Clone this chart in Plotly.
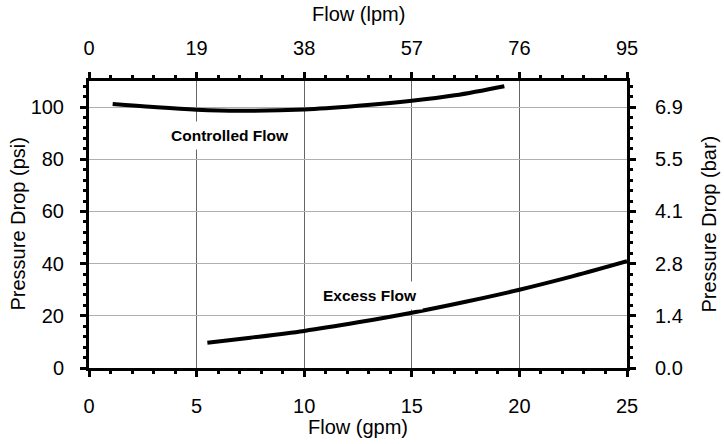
import plotly.graph_objects as go

# Data
controlled_x = [1.1, 3.0, 5.0, 7.0, 10.0, 12.5, 15.0, 17.0, 19.3]
controlled_y = [101.2, 100.0, 99.0, 98.6, 99.1, 100.5, 102.4, 104.5, 108.0]
excess_x = [5.5, 7.5, 10.0, 12.5, 15.0, 17.5, 20.0, 22.5, 25.0]
excess_y = [9.7, 11.6, 14.2, 17.5, 21.2, 25.4, 30.0, 35.2, 40.9]

gpm_ticks = [0, 5, 10, 15, 20, 25]
lpm_labels = ["0", "19", "38", "57", "76", "95"]
psi_ticks = [0, 20, 40, 60, 80, 100]
bar_labels = ["0.0", "1.4", "2.8", "4.1", "5.5", "6.9"]

FONT = "Liberation Sans, Arial, sans-serif"

fig = go.Figure()
fig.add_trace(go.Scatter(x=controlled_x, y=controlled_y, mode="lines",
                         line=dict(color="black", width=4, shape="spline"),
                         showlegend=False, hoverinfo="skip"))
fig.add_trace(go.Scatter(x=excess_x, y=excess_y, mode="lines",
                         line=dict(color="black", width=4, shape="spline"),
                         showlegend=False, hoverinfo="skip"))
# invisible trace on secondary axes so they render
fig.add_trace(go.Scatter(x=[0, 25], y=[0, 110], xaxis="x2", yaxis="y2",
                         mode="markers", marker=dict(opacity=0),
                         showlegend=False, hoverinfo="skip"))

common = dict(showline=True, linecolor="black", linewidth=3,
              ticks="outside", ticklen=6, tickwidth=3, tickcolor="black",
              tickfont=dict(family=FONT, size=20, color="black"),
              zeroline=False)

fig.update_layout(
    width=724, height=444,
    margin=dict(l=89, r=97, t=81, b=76),
    paper_bgcolor="white", plot_bgcolor="white",
    xaxis=dict(range=[0, 25], tickvals=gpm_ticks, showgrid=True,
               gridcolor="#666666", gridwidth=1,
               minor=dict(dtick=1, ticks="outside", ticklen=3, tickwidth=3,
                          tickcolor="black", showgrid=False),
               ticklabelstandoff=12, **common),
    xaxis2=dict(range=[0, 25], overlaying="x", side="top", anchor="y",
                tickvals=gpm_ticks, ticktext=lpm_labels, showgrid=False,
                minor=dict(dtick=1, ticks="outside", ticklen=3, tickwidth=3,
                           tickcolor="black", showgrid=False),
                ticklabelstandoff=9, **common),
    yaxis=dict(range=[0, 110], tickvals=psi_ticks, showgrid=True,
               gridcolor="#b0b0b0", gridwidth=1,
               minor=dict(dtick=4, ticks="outside", ticklen=3, tickwidth=3,
                          tickcolor="black", showgrid=False),
               ticklabelstandoff=12, **common),
    yaxis2=dict(range=[0, 110], overlaying="y", side="right", anchor="x",
                tickvals=psi_ticks, ticktext=bar_labels, showgrid=False,
                minor=dict(dtick=4, ticks="outside", ticklen=3, tickwidth=3,
                           tickcolor="black", showgrid=False),
                ticklabelstandoff=15, **common),
    font=dict(family=FONT, color="black"),
)

title_font = dict(family=FONT, size=20, color="black")
fig.add_annotation(text="Flow (gpm)", xref="paper", yref="paper", x=0.5, y=-0.2056,
                   showarrow=False, font=title_font, xanchor="center", yanchor="middle")
fig.add_annotation(text="Flow (lpm)", xref="paper", yref="paper", x=0.5, y=1.2334,
                   showarrow=False, font=title_font, xanchor="center", yanchor="middle")
fig.add_annotation(text="Pressure Drop (psi)", xref="paper", yref="paper", x=-0.1338, y=0.5,
                   showarrow=False, font=title_font, textangle=-90,
                   xanchor="center", yanchor="middle")
fig.add_annotation(text="Pressure Drop (bar)", xref="paper", yref="paper", x=1.1506, y=0.5,
                   showarrow=False, font=title_font, textangle=-90,
                   xanchor="center", yanchor="middle")

label_font = dict(family=FONT, size=15.5, color="black", weight="bold")
fig.add_annotation(text="Controlled Flow", x=6.55, y=89.2, xref="x", yref="y",
                   showarrow=False, font=label_font, bgcolor="white", borderpad=5)
fig.add_annotation(text="Excess Flow", x=13.06, y=27.8, xref="x", yref="y",
                   showarrow=False, font=label_font, bgcolor="white", borderpad=5)

fig.write_html("out.html", config={"displayModeBar": False},
               post_script="document.body.style.margin='0px';document.body.style.overflow='hidden';")
